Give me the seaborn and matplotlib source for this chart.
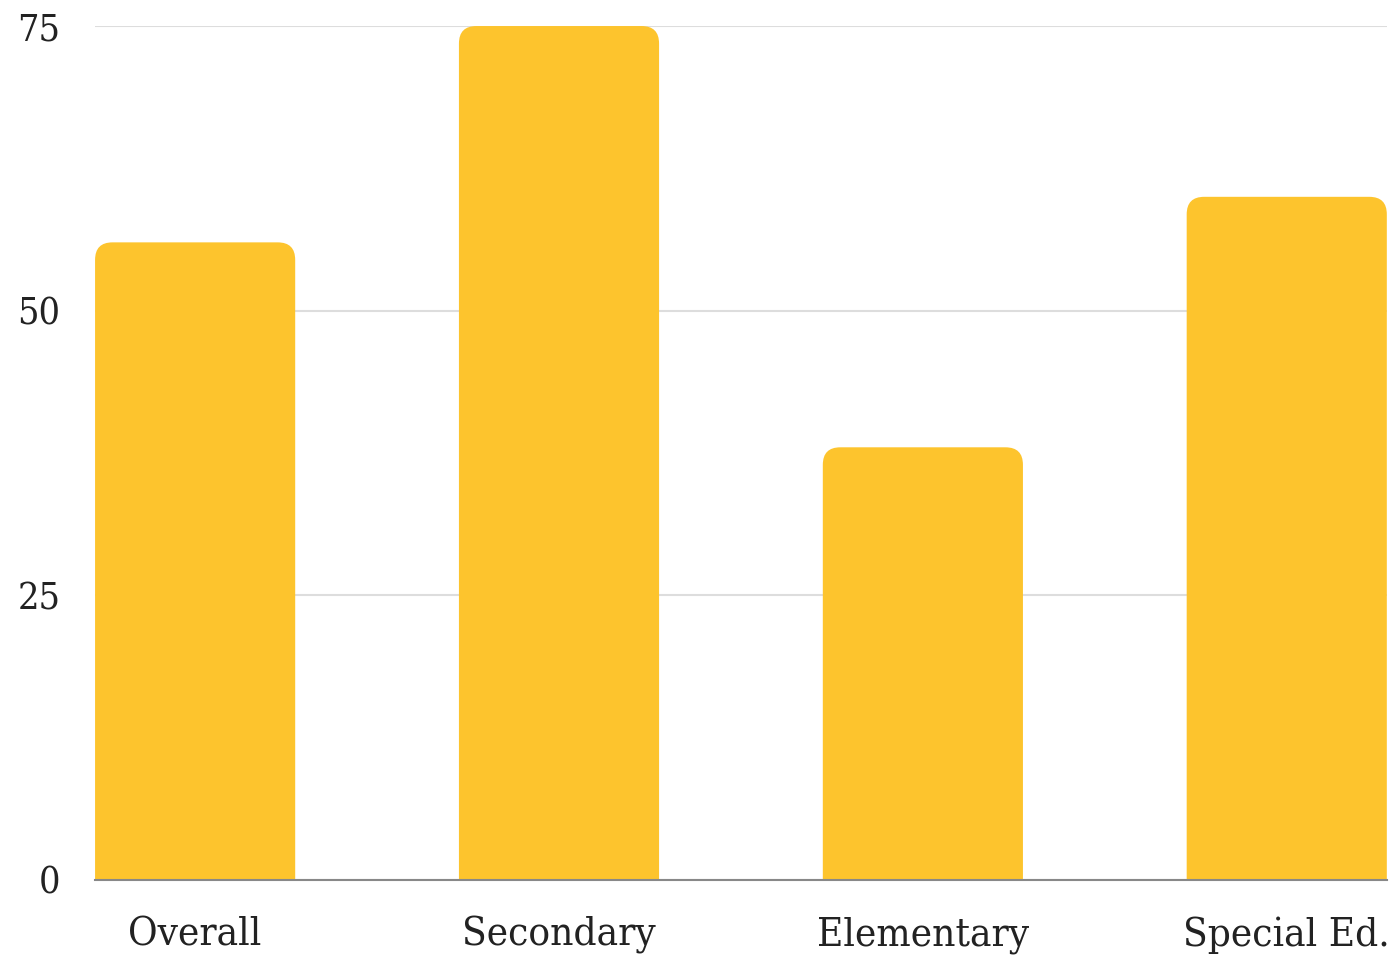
import matplotlib
matplotlib.use("Agg")
import matplotlib.pyplot as plt
import seaborn as sns
import pandas as pd
from matplotlib.patches import FancyBboxPatch

categories = ["Overall", "Secondary", "Elementary", "Special Ed."]
values = [56, 75, 38, 60]
yticks = [0, 25, 50, 75]

sns.set_theme(style="white")
plt.rcParams["font.family"] = ["DejaVu Serif", "DejaVu Sans"]
plt.rcParams["font.stretch"] = "condensed"

df = pd.DataFrame({"cat": categories, "val": values})

fig = plt.figure(figsize=(13.98, 9.57), dpi=100)
ax = fig.add_axes([0.068, 0.0805, 0.924, 0.8923])
sns.barplot(data=df, x="cat", y="val", color="#FDC42D", width=0.55,
            saturation=1, ax=ax, zorder=3)

ax.set_ylim(0, 75)
ax.set_xlim(-0.275, 3.275)

# rounded top corners
rad_x = 0.048
aspect = 32
for p in list(ax.patches):
    x, w, h = p.get_x(), p.get_width(), p.get_height()
    p.set_visible(False)
    fb = FancyBboxPatch((x + rad_x, -5), w - 2 * rad_x, h + 5 - rad_x * aspect,
                        boxstyle=f"round,pad={rad_x},rounding_size={rad_x}",
                        mutation_aspect=aspect, facecolor="#FDC42D",
                        edgecolor="none", zorder=3, clip_on=True)
    ax.add_patch(fb)

ax.set_yticks(yticks)
ax.yaxis.grid(True, color="#dddddd", linewidth=1.5, zorder=0)
ax.xaxis.grid(False)
for s in ["top", "right", "left"]:
    ax.spines[s].set_visible(False)
ax.spines["bottom"].set_color("#888888")
ax.spines["bottom"].set_linewidth(1.5)
ax.spines["bottom"].set_zorder(4)
ax.tick_params(axis="y", length=0, pad=25, labelsize=27, labelcolor="#222222")
ax.tick_params(axis="x", length=0, pad=26, labelsize=29, labelcolor="#222222")
for t in ax.get_yticklabels():
    t.set_va("center_baseline")
ax.set_xlabel("")
ax.set_ylabel("")

fig.savefig("out.png", dpi=100)
